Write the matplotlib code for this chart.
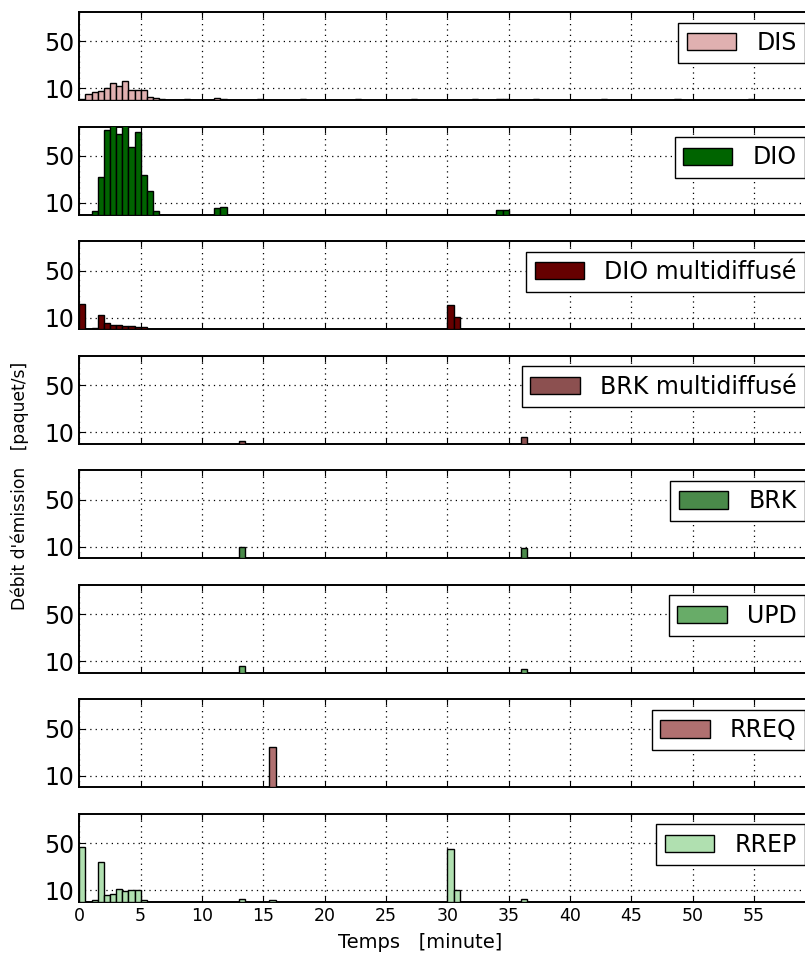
import matplotlib
matplotlib.use('Agg')
import matplotlib.pyplot as plt

# emission rate per 30 s bin, bins given by their start time (minutes)
dis_t = [0, 0.5, 1, 1.5, 2, 2.5, 3, 3.5, 4, 4.5, 5, 5.5, 6, 6.5,
         8.5, 11, 11.5, 14.5, 18, 22.5, 27, 32, 34, 34.5, 37, 42.5, 48.5, 54.5]
dis_v = [1, 5.6, 6.8, 8, 10.7, 15, 12, 16, 9, 9, 9, 3, 2, 1,
         1, 2, 1, 1, 1, 1, 1, 1, 1, 1, 1, 1, 1, 1]

dio_t = [1, 1.5, 2, 2.5, 3, 3.5, 4, 4.5, 5, 5.5, 6, 11, 11.5, 34, 34.5]
dio_v = [3, 32, 72, 80, 69, 80, 58, 70, 34, 20, 3.3, 5.7, 6.5, 3.7, 3.7]

diom_t = [0, 1, 1.5, 2, 2.5, 3, 3.5, 4, 4.5, 5, 30, 30.5]
diom_v = [21.5, 1, 12.5, 5.5, 4, 3.7, 3.1, 2.8, 2.2, 2.2, 20.7, 10.5]

brkm_t = [13, 36]
brkm_v = [2, 6]

brk_t = [13, 36]
brk_v = [10, 9]

upd_t = [13, 36]
upd_v = [6, 3]

rreq_t = [15.5]
rreq_v = [34]

rrep_t = [0, 1, 1.5, 2, 2.5, 3, 3.5, 4, 4.5, 5, 13, 15.5, 30, 30.5, 36]
rrep_v = [47, 2, 34, 5.6, 6.8, 10.7, 9, 9.9, 9.9, 2, 2.8, 2, 44.8, 9.9, 2.8]

series = [
    ('DIS', dis_t, dis_v, '#e0b0b0'),
    ('DIO', dio_t, dio_v, '#006400'),
    (u'DIO multidiffusé', diom_t, diom_v, '#660000'),
    (u'BRK multidiffusé', brkm_t, brkm_v, '#8c5050'),
    ('BRK', brk_t, brk_v, '#4a8a4a'),
    ('UPD', upd_t, upd_v, '#68ac68'),
    ('RREQ', rreq_t, rreq_v, '#b07070'),
    ('RREP', rrep_t, rrep_v, '#b0e0b0'),
]

x_ticks = [0, 5, 10, 15, 20, 25, 30, 35, 40, 45, 50, 55]
y_ticks = [10, 50]

fig, axes = plt.subplots(len(series), 1, sharex=True, figsize=(8.05, 9.56), dpi=100)
fig.subplots_adjust(left=0.0985, right=1.013, top=0.9874, bottom=0.0565, hspace=0.30)

for ax, (name, t, v, col) in zip(axes, series):
    ax.bar(t, v, width=0.5, align='edge', color=col, edgecolor='black',
           linewidth=1.0, label=name, zorder=3)
    ax.set_xlim(0, 60)
    ax.set_ylim(0, 75)
    ax.set_yticks(y_ticks)
    ax.set_xticks(x_ticks)
    ax.grid(True, linestyle=(0, (1, 3.3)), color='black', linewidth=0.9, zorder=0)
    ax.tick_params(axis='y', labelsize=17, direction='in', right=True, length=4)
    ax.tick_params(axis='x', labelsize=12.5, direction='in', top=True, length=4)
    for s in ax.spines.values():
        s.set_linewidth(1.4)
    leg = ax.legend(loc='upper right', fontsize=17, fancybox=False, framealpha=1,
                    edgecolor='black', borderaxespad=0.45, borderpad=0.35,
                    handlelength=2.1, handleheight=0.75, handletextpad=0.85)
    leg.get_frame().set_linewidth(1.0)

for ax in axes[:-1]:
    ax.tick_params(axis='x', labelbottom=False)

fig.text(420 / 805, 1 - 942 / 956, 'Temps   [minute]', ha='center', va='center', fontsize=14)
fig.text(20 / 805, 1 - 486 / 956, u"Débit d'émission   [paquet/s]", ha='center', va='center',
         rotation=90, fontsize=12.3)

plt.savefig('out.png', dpi=100)
